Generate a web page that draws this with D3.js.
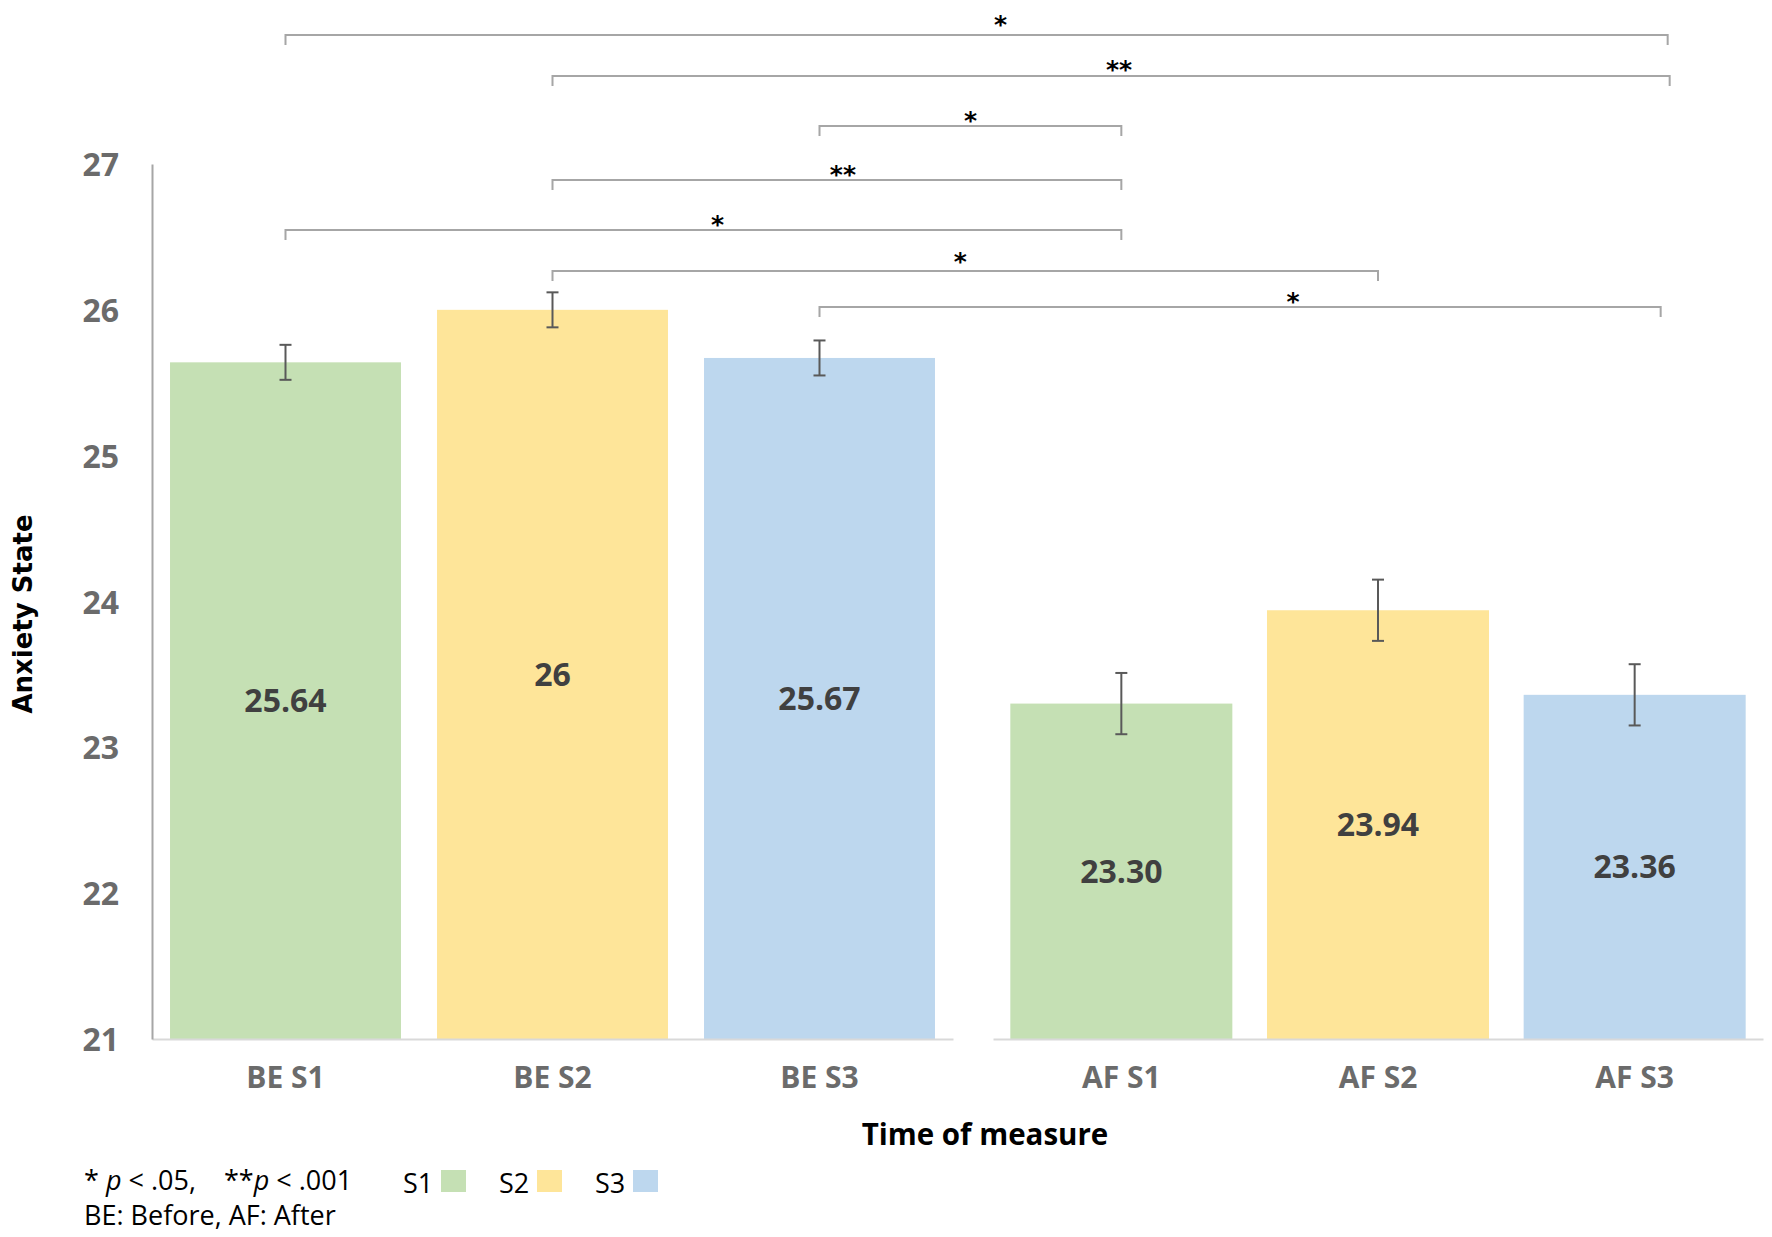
<!DOCTYPE html>
<html>
<head>
<meta charset="utf-8">
<script src="https://cdn.jsdelivr.net/npm/d3@7"></script>
<style>
  body { margin: 0; background: #fff; }
  svg { display: block; }
</style>
</head>
<body>
<div id="chart"></div>
<script>
// data
var beforeCats = ["BE S1", "BE S2", "BE S3"];
var afterCats = ["AF S1", "AF S2", "AF S3"];
var beforeMeans = [25.64, 26, 25.67];
var afterMeans = [23.30, 23.94, 23.36];
var beforeLabels = ["25.64", "26", "25.67"];
var afterLabels = ["23.30", "23.94", "23.36"];
var beforeErr = [0.12, 0.12, 0.12];
var afterErr = [0.21, 0.21, 0.21];
var sessions = ["S1", "S2", "S3"];
var yTicks = [21, 22, 23, 24, 25, 26, 27];

// significance brackets
var compFrom = ["BE S1", "BE S2", "BE S3", "BE S2", "BE S1", "BE S2", "BE S3"];
var compTo = ["AF S3", "AF S3", "AF S1", "AF S1", "AF S1", "AF S2", "AF S3"];
var compSig = ["*", "**", "*", "**", "*", "*", "*"];
var compLevel = [27.885, 27.603, 27.26, 26.89, 26.547, 26.266, 26.02];

var colors = {"S1": "#c5e0b4", "S2": "#fee599", "S3": "#bdd7ee"};
// hand placed offsets of the original drawing
var endNudge = [33, 35, 0, 0, 0, 0, 26];
var labelNudge = [24, 8, 0, 6, 14, -5, 53];
var labelLift = [5, 1, 0, 0, 0, 4, 0];

var width = 1772, height = 1237;
var svg = d3.select("#chart").append("svg")
    .attr("width", width)
    .attr("height", height);

var y = d3.scaleLinear().domain([21, 27]).range([1039, 164]);

var xBefore = d3.scaleBand().domain(beforeCats).range([152, 953])
    .paddingInner(0.135).paddingOuter(0.0675);
var xAfter = d3.scaleBand().domain(afterCats).range([993, 1763])
    .paddingInner(0.135).paddingOuter(0.0675);

function center(cat) {
    if (beforeCats.indexOf(cat) >= 0) return xBefore(cat) + xBefore.bandwidth() / 2;
    return xAfter(cat) + xAfter.bandwidth() / 2;
}

var rows = [];
beforeCats.forEach(function(c, i) {
    rows.push({cat: c, v: beforeMeans[i], e: beforeErr[i], label: beforeLabels[i], s: sessions[i], x: xBefore});
});
afterCats.forEach(function(c, i) {
    rows.push({cat: c, v: afterMeans[i], e: afterErr[i], label: afterLabels[i], s: sessions[i], x: xAfter});
});

// bars
svg.append("g").selectAll("rect")
    .data(rows)
    .enter()
    .append("rect")
    .attr("x", function(d) { return d.x(d.cat); })
    .attr("y", function(d) { return y(d.v); })
    .attr("width", function(d) { return d.x.bandwidth(); })
    .attr("height", function(d) { return y(21) - y(d.v); })
    .attr("fill", function(d) { return colors[d.s]; });

// x axes (one per panel)
function styleXAxis(g) {
    g.select(".domain").attr("stroke", "#d9d9d9").attr("stroke-width", 2);
    g.selectAll(".tick line").remove();
    g.selectAll(".tick text")
        .attr("y", 38)
        .attr("dy", "0.36em")
        .attr("fill", "#6b6b6b")
        .style("font-family", "'Open Sans', sans-serif")
        .style("font-weight", "bold")
        .style("font-size", "30px");
}
svg.append("g").attr("transform", "translate(0," + y(21) + ")")
    .call(d3.axisBottom(xBefore).tickSize(0).tickSizeOuter(0))
    .call(styleXAxis);
svg.append("g").attr("transform", "translate(0," + y(21) + ")")
    .call(d3.axisBottom(xAfter).tickSize(0).tickSizeOuter(0))
    .call(styleXAxis);

// y axis
var yAxis = svg.append("g").attr("transform", "translate(152,0)")
    .call(d3.axisLeft(y).tickValues(yTicks).tickFormat(d3.format("d"))
        .tickSize(0).tickSizeOuter(0).tickPadding(33));
yAxis.select(".domain").attr("stroke", "#a6a6a6").attr("stroke-width", 2);
yAxis.selectAll(".tick text")
    .attr("dy", "0.36em")
    .attr("fill", "#6b6b6b")
    .style("font-family", "'Open Sans', sans-serif")
    .style("font-weight", "bold")
    .style("font-size", "32px");

// error bars
var eb = svg.append("g").attr("stroke", "#595959").attr("stroke-width", 2);
rows.forEach(function(d) {
    var cx = center(d.cat);
    eb.append("line").attr("x1", cx).attr("x2", cx).attr("y1", y(d.v + d.e)).attr("y2", y(d.v - d.e));
    eb.append("line").attr("x1", cx - 6).attr("x2", cx + 6).attr("y1", y(d.v + d.e)).attr("y2", y(d.v + d.e));
    eb.append("line").attr("x1", cx - 6).attr("x2", cx + 6).attr("y1", y(d.v - d.e)).attr("y2", y(d.v - d.e));
});

// value labels in the middle of each bar
svg.append("g").selectAll("text")
    .data(rows)
    .enter()
    .append("text")
    .attr("x", function(d) { return center(d.cat); })
    .attr("y", function(d) { return (y(d.v) + y(21)) / 2; })
    .attr("dy", "0.36em")
    .attr("text-anchor", "middle")
    .attr("fill", "#404040")
    .style("font-family", "'Open Sans', sans-serif")
    .style("font-weight", "bold")
    .style("font-size", "32px")
    .text(function(d) { return d.label; });

// brackets
var br = svg.append("g");
compFrom.forEach(function(f, i) {
    var x1 = center(f);
    var x2 = center(compTo[i]) + endNudge[i];
    var yy = y(compLevel[i]);
    br.append("path")
        .attr("d", "M" + x1 + "," + (yy + 10) + "V" + yy + "H" + x2 + "V" + (yy + 10))
        .attr("fill", "none")
        .attr("stroke", "#a6a6a6")
        .attr("stroke-width", 2);
    br.append("text")
        .attr("x", (x1 + x2) / 2 + labelNudge[i])
        .attr("y", yy + 3 - labelLift[i])
        .attr("text-anchor", "middle")
        .attr("fill", "#000")
        .style("font-family", "'DejaVu Sans', sans-serif")
        .style("font-weight", "bold")
        .style("font-size", "25px")
        .text(compSig[i]);
});

// axis titles
svg.append("text")
    .attr("transform", "translate(23,614) rotate(-90)")
    .attr("text-anchor", "middle")
    .attr("dy", "0.36em")
    .style("font-family", "'DejaVu Sans', sans-serif")
    .style("font-weight", "bold")
    .style("font-size", "26px")
    .text("Anxiety State");

svg.append("text")
    .attr("x", 985)
    .attr("y", 1134)
    .attr("dy", "0.36em")
    .attr("text-anchor", "middle")
    .style("font-family", "'Open Sans', sans-serif")
    .style("font-weight", "bold")
    .style("font-size", "29.5px")
    .text("Time of measure");

// footnote
var note = svg.append("text")
    .attr("x", 84)
    .attr("y", 1180)
    .attr("dy", "0.36em")
    .style("font-family", "'Open Sans', sans-serif")
    .style("font-size", "27px");
note.append("tspan").text("* ");
note.append("tspan").style("font-style", "italic").text("p");
note.append("tspan").text(" < .05,");
note.append("tspan").attr("dx", 28).text("**");
note.append("tspan").style("font-style", "italic").text("p");
note.append("tspan").text(" < .001");

svg.append("text")
    .attr("x", 84)
    .attr("y", 1215)
    .attr("dy", "0.36em")
    .style("font-family", "'Open Sans', sans-serif")
    .style("font-size", "27px")
    .text("BE: Before, AF: After");

// legend
var legend = svg.append("g").selectAll("g")
    .data(sessions)
    .enter()
    .append("g")
    .attr("transform", function(d, i) { return "translate(" + (403 + i * 96) + ",0)"; });
legend.append("text")
    .attr("y", 1183)
    .attr("dy", "0.36em")
    .style("font-family", "'Open Sans', sans-serif")
    .style("font-size", "27px")
    .text(function(d) { return d; });
legend.append("rect")
    .attr("x", 38)
    .attr("y", 1170)
    .attr("width", 25)
    .attr("height", 22)
    .attr("fill", function(d) { return colors[d]; });
</script>
</body>
</html>
